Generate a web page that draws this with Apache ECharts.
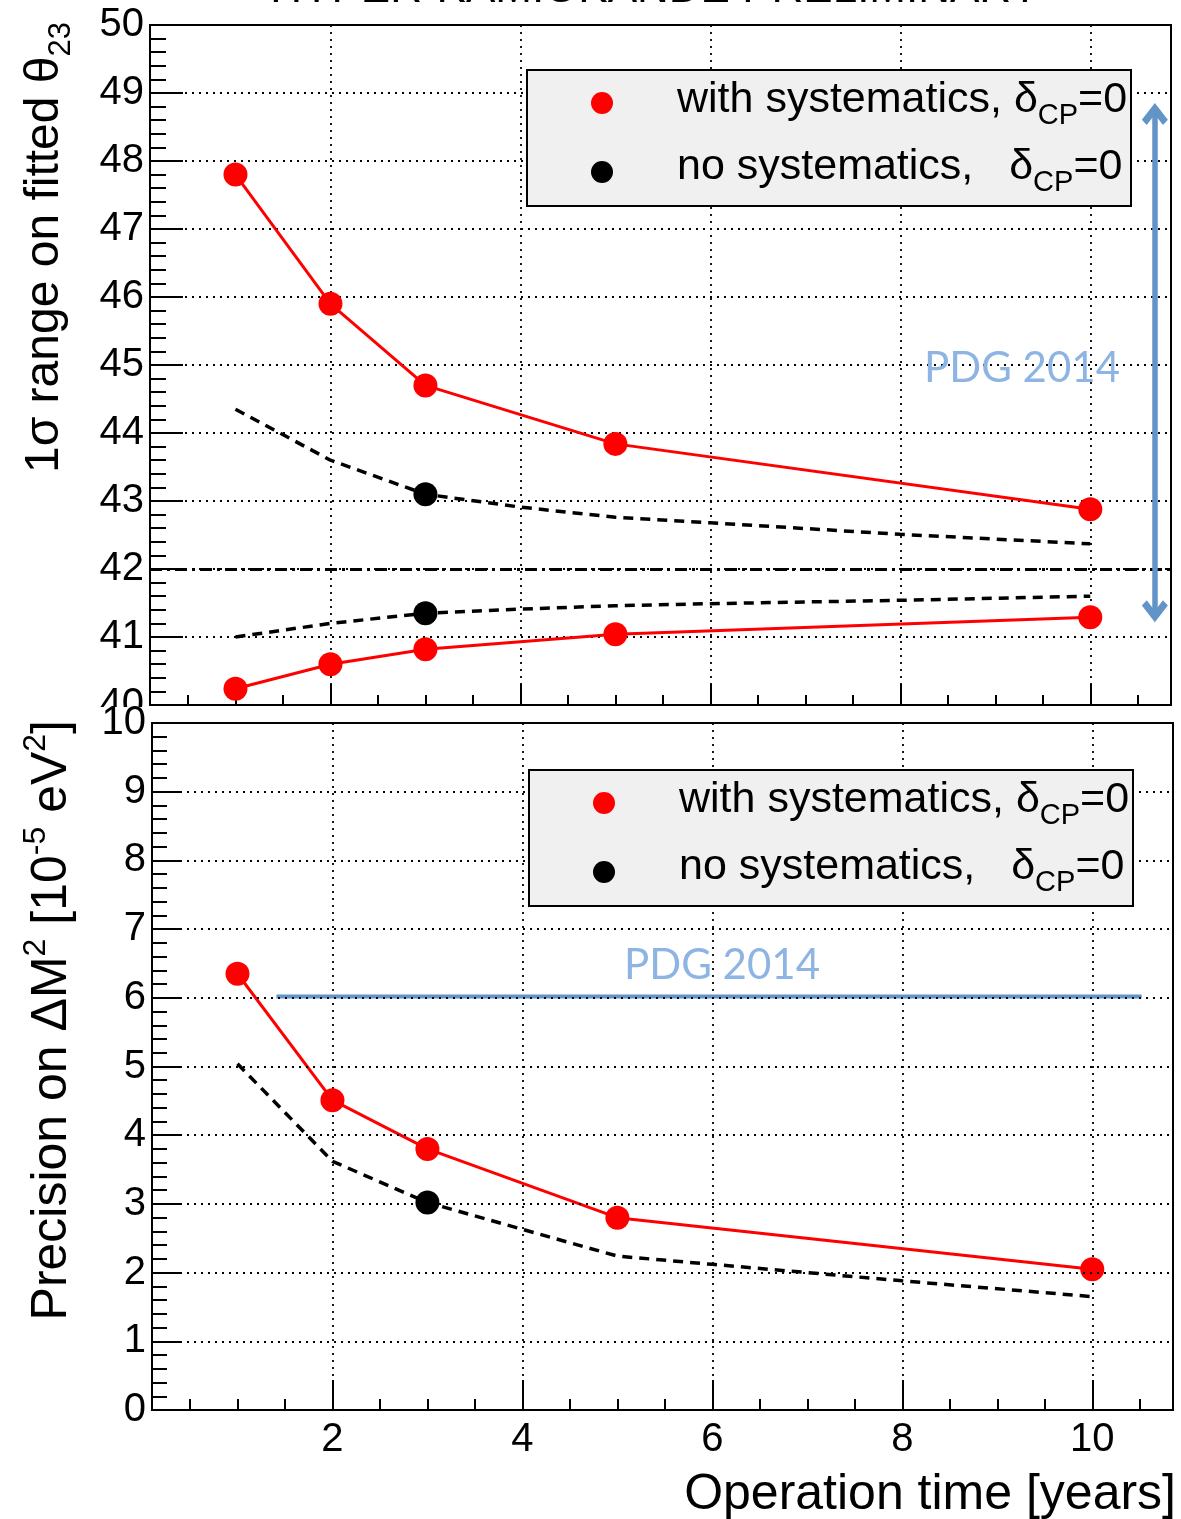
<!DOCTYPE html>
<html><head><meta charset="utf-8">
<script src="https://cdn.jsdelivr.net/npm/echarts@6/dist/echarts.min.js"></script>
<style>html,body{margin:0;padding:0;background:#fff}#c{width:1181px;height:1519px}</style>
</head><body><div id="c"></div>
<script>
// ---------- data ----------
const xMajor = [2, 4, 6, 8, 10];
const xMinor = [0.5,1,1.5,2,2.5,3,3.5,4,4.5,5,5.5,6,6.5,7,7.5,8,8.5,9,9.5,10,10.5];
const xRange = [0.1, 10.85];
const thetaAxis = [40, 50];
const massAxis = [0, 10];
const thetaSysUpper = [[1,47.8],[2,45.9],[3,44.7],[5,43.84],[10,42.88]];
const thetaSysLower = [[1,40.24],[2,40.6],[3,40.82],[5,41.04],[10,41.29]];
const thetaNoSysUpper = [[1,44.35],[2,43.6],[3,43.1],[4,42.91],[5,42.76],[6,42.68],[8,42.51],[10,42.37]];
const thetaNoSysLower = [[1,41.0],[2,41.2],[3,41.35],[4,41.41],[5,41.46],[6,41.49],[8,41.54],[10,41.6]];
const thetaNoSysPoints = [[3,43.1],[3,41.35]];
const thetaTrue = 42;
const thetaPDG = [[10.68,48.69],[10.68,41.38]];
const massSys = [[1,6.35],[2,4.51],[3,3.8],[5,2.8],[10,2.05]];
const massNoSys = [[1,5.04],[2,3.62],[3,3.02],[4,2.63],[5,2.24],[6,2.12],[8,1.88],[10,1.65]];
const massNoSysPoints = [[3,3.02]];
const massPDG = [[1.41,6.02],[10.52,6.02]];
const legendLabels = ['{m|with systematics, δ}{sub|CP}{m|=0}', '{m|no systematics,   δ}{sub|CP}{m|=0}'];
const pdgLabel = 'PDG 2014';
const titleTop = 'HYPER-KAMIOKANDE PRELIMINARY';

// ---------- style ----------
const F = "'Liberation Sans', Arial, Helvetica, sans-serif";
const RED = '#ff0000', BLUE = '#6394c8', LBLUE = '#8db4e2';
const dotted = {color:'#000', width:1.8, type:[2,5]};

function xAxes(g, showLabels, majorLen, minorLen){
  return [{
    type:'value', gridIndex:g, min:xRange[0], max:xRange[1], position:'bottom',
    axisLine:{show:true, onZero:false, lineStyle:{color:'#000', width:2}},
    axisTick:{show:true, inside:true, length:majorLen, customValues:xMajor, lineStyle:{color:'#000', width:2}},
    axisLabel:{show:showLabels, customValues:xMajor, color:'#000', fontSize:40, fontFamily:F, margin:10},
    splitLine:{show:true, lineStyle:dotted}
  },{
    type:'value', gridIndex:g, min:xRange[0], max:xRange[1], position:'bottom',
    axisLine:{show:false},
    axisTick:{show:true, inside:true, length:minorLen, customValues:xMinor, lineStyle:{color:'#000', width:2}},
    axisLabel:{show:false, customValues:xMinor},
    splitLine:{show:false}
  }];
}
function yAxis(g, range, majorLen, minorLen, z){
  return {
    type:'value', gridIndex:g, min:range[0], max:range[1], interval:1, z:z,
    axisLine:{show:true, onZero:false, lineStyle:{color:'#000', width:2}},
    axisTick:{show:true, inside:true, length:majorLen, lineStyle:{color:'#000', width:2}},
    minorTick:{show:true, splitNumber:5, length:minorLen, lineStyle:{color:'#000', width:2}},
    axisLabel:{color:'#000', fontSize:40, fontFamily:F, margin:6},
    splitLine:{show:true, lineStyle:dotted}
  };
}
const dashed = {color:'#000', width:3.5, type:[10,7]};
function line(xi, yi, data, style, sym, z){
  return {type:'line', xAxisIndex:xi, yAxisIndex:yi, data:data, lineStyle:style,
    symbol: sym ? 'circle' : 'none', symbolSize:24, itemStyle:{color:style.color, opacity:1},
    silent:true, z:z, animation:false};
}
const chevron = 'path://M12,0 L24,14 L19.5,18.5 L12,9.5 L4.5,18.5 L0,14 Z';

const chart = echarts.init(document.getElementById('c'), null, {renderer:'canvas'});
const option = {
  backgroundColor:'#fff',
  animation:false,
  grid:[
    {left:150, top:25, width:1021, height:680, show:true, borderColor:'#000', borderWidth:2, backgroundColor:'transparent', outerBoundsMode:'none'},
    {left:152, top:723, width:1021, height:687, show:true, borderColor:'#000', borderWidth:2, backgroundColor:'transparent', outerBoundsMode:'none'}
  ],
  xAxis:[...xAxes(0, false, 21, 10), ...xAxes(1, true, 30, 11)],
  yAxis:[yAxis(0, thetaAxis, 33, 16, 0), yAxis(1, massAxis, 30, 15, 10)],
  series:[
    Object.assign(line(0,0,[],{color:'#000',width:0},false,1),{
      markLine:{silent:true, symbol:'none', label:{show:false},
        lineStyle:{color:'#000', width:3, type:[12,5,3,5]},
        data:[{yAxis:thetaTrue}]}
    }),
    line(0,0,thetaNoSysUpper,dashed,false,2),
    line(0,0,thetaNoSysLower,dashed,false,2),
    line(0,0,thetaSysUpper,{color:RED,width:3,type:'solid'},true,3),
    line(0,0,thetaSysLower,{color:RED,width:3,type:'solid'},true,3),
    {type:'scatter', xAxisIndex:0, yAxisIndex:0, data:thetaNoSysPoints, symbolSize:24, itemStyle:{color:'#000', opacity:1}, z:4, silent:true},
    Object.assign(line(0,0,[],{color:BLUE,width:0},false,5),{
      markLine:{silent:true, symbol:[chevron, chevron], symbolSize:[26,22], label:{show:false},
        lineStyle:{color:BLUE, width:5.5, type:'solid'},
        data:[[{coord:thetaPDG[0]},{coord:thetaPDG[1]}]]}
    }),
    line(2,1,massNoSys,dashed,false,2),
    line(2,1,massSys,{color:RED,width:3,type:'solid'},true,3),
    {type:'scatter', xAxisIndex:2, yAxisIndex:1, data:massNoSysPoints, symbolSize:24, itemStyle:{color:'#000', opacity:1}, z:4, silent:true},
    line(2,1,massPDG,{color:BLUE,width:4,type:'solid'},false,3)
  ],
  graphic:[]
};

const legendRich = {
  m:{fontSize:43, fontFamily:F, fill:'#000', lineHeight:60, verticalAlign:'middle'},
  sub:{fontSize:29, fontFamily:F, fill:'#000', lineHeight:22, verticalAlign:'bottom'}
};
function legend(x, y){
  return [
    {type:'rect', shape:{x:x, y:y, width:604, height:136}, style:{fill:'#f0f0f0', stroke:'#000', lineWidth:2}, z:20},
    {type:'circle', shape:{cx:x+75, cy:y+33, r:11}, style:{fill:RED}, z:21},
    {type:'circle', shape:{cx:x+75, cy:y+102, r:11}, style:{fill:'#000'}, z:21},
    {type:'text', x:x+150, y:y+30, z:21, style:{text:legendLabels[0], verticalAlign:'middle', rich:legendRich}},
    {type:'text', x:x+150, y:y+97, z:21, style:{text:legendLabels[1], verticalAlign:'middle', rich:legendRich}}
  ];
}
option.graphic = [
  // cover lower part of the top panel "40" label, as the lower pad does
  {type:'rect', shape:{x:80, y:707, width:69, height:11}, style:{fill:'#fff'}, z:5},
  ...legend(527, 70),
  ...legend(529, 770),
  {type:'text', x:1022, y:368, z:21, style:{text:pdgLabel, fill:LBLUE, font:"42px Lato, 'Open Sans', sans-serif", align:'center', verticalAlign:'middle'}},
  {type:'text', x:722, y:965, z:21, style:{text:pdgLabel, fill:LBLUE, font:"42px Lato, 'Open Sans', sans-serif", align:'center', verticalAlign:'middle'}},
  {type:'text', x:1176, y:1495, z:21, style:{text:'Operation time [years]', fill:'#000', font:'50px '+F, align:'right', verticalAlign:'middle'}},
  {type:'text', x:655, y:-10, z:21, style:{text:titleTop, fill:'#000', font:'44px '+F, align:'center', verticalAlign:'middle'}},
  {type:'text', x:45, y:22, rotation:Math.PI/2, z:21, style:{
     text:'{m|1σ range on fitted θ}{sub|23}', align:'right', verticalAlign:'middle',
     rich:{m:{fontSize:48, fontFamily:F, fill:'#000', lineHeight:64, verticalAlign:'middle'},
           sub:{fontSize:31, fontFamily:F, fill:'#000', lineHeight:24, verticalAlign:'bottom'}}}},
  {type:'text', x:52, y:720, rotation:Math.PI/2, z:21, style:{
     text:'{m|Precision on ΔM}{sup|2}{m| [10}{sup|-5}{m| eV}{sup|2}{m|]}', align:'right', verticalAlign:'middle',
     rich:{m:{fontSize:50, fontFamily:F, fill:'#000', lineHeight:64, verticalAlign:'middle'},
           sup:{fontSize:32, fontFamily:F, fill:'#000', lineHeight:24, verticalAlign:'top'}}}}
];
chart.setOption(option);
</script>
</body></html>
